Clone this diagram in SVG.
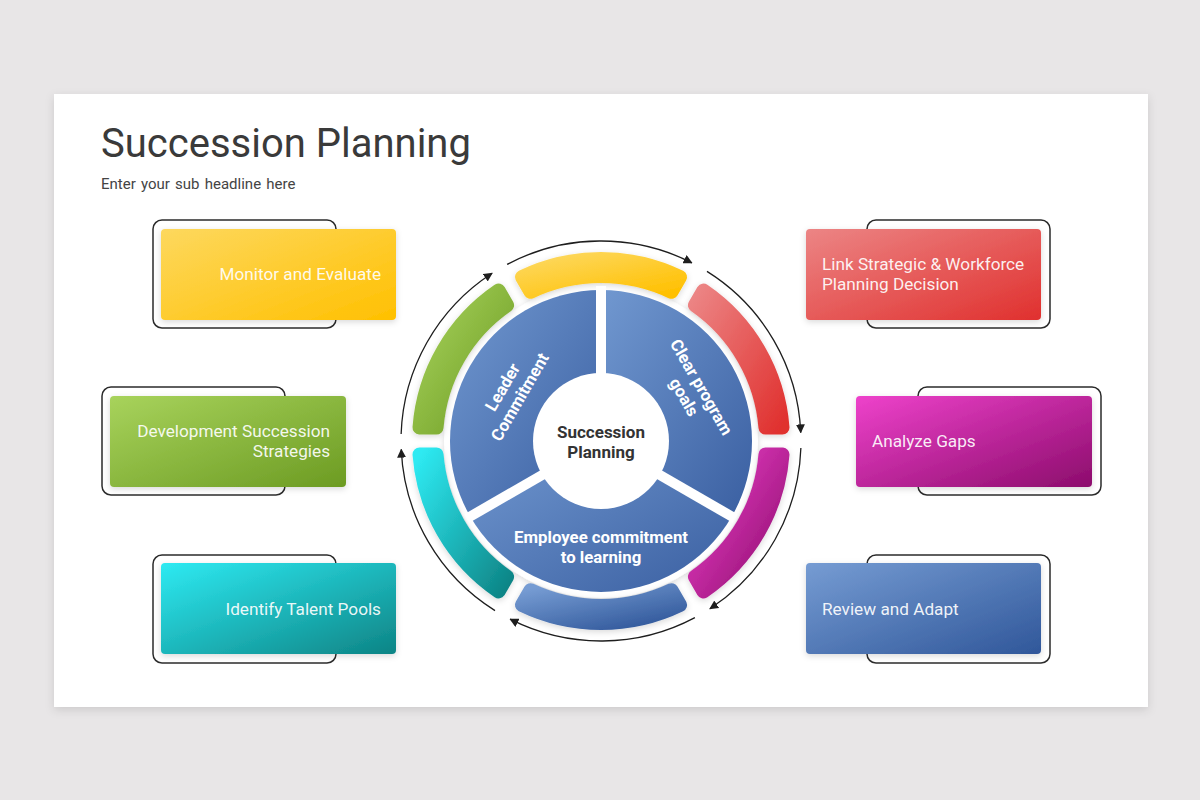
<svg xmlns="http://www.w3.org/2000/svg" width="1200" height="800" viewBox="0 0 1200 800">
<defs>
<filter id="card" x="-5%" y="-5%" width="110%" height="115%"><feDropShadow dx="0" dy="3" stdDeviation="5" flood-color="#000" flood-opacity="0.12"/></filter>
<filter id="sh" x="-10%" y="-10%" width="120%" height="130%"><feDropShadow dx="0" dy="2" stdDeviation="3" flood-color="#000" flood-opacity="0.15"/></filter>
<filter id="shs" filterUnits="userSpaceOnUse" x="380" y="230" width="440" height="420"><feDropShadow dx="0" dy="2" stdDeviation="3" flood-color="#000" flood-opacity="0.15"/></filter>
<linearGradient id="gY" x1="0" y1="0" x2="1" y2="1"><stop offset="0" stop-color="#FDD85E"/><stop offset="1" stop-color="#FFC000"/></linearGradient>
<linearGradient id="gR" x1="0" y1="0" x2="1" y2="1"><stop offset="0" stop-color="#EC8585"/><stop offset="1" stop-color="#E0302E"/></linearGradient>
<linearGradient id="gG" x1="0" y1="0" x2="1" y2="1"><stop offset="0" stop-color="#A8D35C"/><stop offset="1" stop-color="#6C9B22"/></linearGradient>
<linearGradient id="gM" x1="0" y1="0" x2="1" y2="1"><stop offset="0" stop-color="#EE42CB"/><stop offset="1" stop-color="#8C0C6C"/></linearGradient>
<linearGradient id="gT" x1="0" y1="0" x2="1" y2="1"><stop offset="0" stop-color="#2EEAF2"/><stop offset="1" stop-color="#0D8485"/></linearGradient>
<linearGradient id="gB" x1="0" y1="0" x2="1" y2="1"><stop offset="0" stop-color="#769CD3"/><stop offset="1" stop-color="#30579A"/></linearGradient>
<linearGradient id="gP" x1="0" y1="0" x2="1" y2="1"><stop offset="0" stop-color="#7198D0"/><stop offset="1" stop-color="#3A5FA1"/></linearGradient>
<marker id="ah" viewBox="0 0 10 10" refX="9" refY="5" markerWidth="9" markerHeight="9" markerUnits="userSpaceOnUse" orient="auto"><path d="M0,0 L10,5 L0,10 z" fill="#1e1e1e"/></marker>
</defs>
<style>
.ol{fill:none;stroke:#2b2b2b;stroke-width:1.5}
.bt{font-family:Roboto,"Liberation Sans",sans-serif;font-size:17.2px;fill:#fff;fill-opacity:0.92}
.st{font-family:Roboto,"Liberation Sans",sans-serif;font-size:16.8px;font-weight:bold;fill:#fff;text-anchor:middle}
.arc{fill:none;stroke:#1e1e1e;stroke-width:1.3;marker-end:url(#ah)}
.seg{stroke-width:14;stroke-linejoin:round}
</style>
<rect width="1200" height="800" fill="#E8E6E7"/>
<rect x="54" y="94" width="1094" height="613" fill="#fff" filter="url(#card)"/>
<g id="title">
<text x="101" y="157" font-family="Roboto,'Liberation Sans',sans-serif" font-size="40" fill="#3a3a3a">Succession Planning</text>
<text x="101" y="189" font-family="Roboto,'Liberation Sans',sans-serif" font-size="15" word-spacing="1.5" fill="#444">Enter your sub headline here</text>
</g>

<g id="box-monitor">
<rect class="ol" x="153" y="220" width="183" height="108" rx="9"/>
<rect x="161" y="229" width="235" height="91" rx="4" fill="url(#gY)" filter="url(#sh)"/>
<text class="bt" x="381" y="280" text-anchor="end">Monitor and Evaluate</text>
</g>
<g id="box-development">
<rect class="ol" x="102" y="387" width="183" height="108" rx="9"/>
<rect x="110" y="396" width="236" height="91" rx="4" fill="url(#gG)" filter="url(#sh)"/>
<text class="bt" x="330" y="437" text-anchor="end">Development Succession</text>
<text class="bt" x="330" y="457" text-anchor="end">Strategies</text>
</g>
<g id="box-identify">
<rect class="ol" x="153" y="555" width="183" height="108" rx="9"/>
<rect x="161" y="563" width="235" height="91" rx="4" fill="url(#gT)" filter="url(#sh)"/>
<text class="bt" x="381" y="615" text-anchor="end">Identify Talent Pools</text>
</g>
<g id="box-link">
<rect class="ol" x="867" y="220" width="183" height="108" rx="9"/>
<rect x="806" y="229" width="235" height="91" rx="4" fill="url(#gR)" filter="url(#sh)"/>
<text class="bt" x="822" y="270">Link Strategic &amp; Workforce</text>
<text class="bt" x="822" y="290">Planning Decision</text>
</g>
<g id="box-analyze">
<rect class="ol" x="918" y="387" width="183" height="108" rx="9"/>
<rect x="856" y="396" width="236" height="91" rx="4" fill="url(#gM)" filter="url(#sh)"/>
<text class="bt" x="872" y="447">Analyze Gaps</text>
</g>
<g id="box-review">
<rect class="ol" x="867" y="555" width="183" height="108" rx="9"/>
<rect x="806" y="563" width="235" height="91" rx="4" fill="url(#gB)" filter="url(#sh)"/>
<text class="bt" x="822" y="615">Review and Adapt</text>
</g>

<g id="ring">
<circle cx="601" cy="441" r="157" fill="#fff" filter="url(#shs)"/>
<path class="seg" fill="url(#gR)" stroke="url(#gR)" d="M782.50,427.50 A182,182 0 0 0 703.44,290.57 L694.91,305.33 A165,165 0 0 1 765.45,427.50 Z" filter="url(#shs)"/>
<path class="seg" fill="url(#gY)" stroke="url(#gY)" d="M680.06,277.07 A182,182 0 0 0 521.94,277.06 L530.46,291.84 A165,165 0 0 1 671.54,291.83 Z" filter="url(#shs)"/>
<path class="seg" fill="url(#gG)" stroke="url(#gG)" d="M498.56,290.56 A182,182 0 0 0 419.50,427.50 L436.55,427.51 A165,165 0 0 1 507.09,305.33 Z" filter="url(#shs)"/>
<path class="seg" fill="url(#gT)" stroke="url(#gT)" d="M419.50,454.50 A182,182 0 0 0 498.56,591.43 L507.09,576.67 A165,165 0 0 1 436.55,454.50 Z" filter="url(#shs)"/>
<path class="seg" fill="url(#gB)" stroke="url(#gB)" d="M521.94,604.93 A182,182 0 0 0 680.06,604.94 L671.54,590.16 A165,165 0 0 1 530.46,590.17 Z" filter="url(#shs)"/>
<path class="seg" fill="url(#gM)" stroke="url(#gM)" d="M703.44,591.44 A182,182 0 0 0 782.50,454.50 L765.45,454.49 A165,165 0 0 1 694.91,576.67 Z" filter="url(#shs)"/>
</g>

<g id="connectors">
<path class="arc" d="M706.98,271.39 A200,200 0 0 1 800.73,432.5"/>
<path class="arc" d="M507.11,264.41 A200,200 0 0 1 691.80,262.80"/>
<path class="arc" d="M401.12,434.02 A200,200 0 0 1 492.07,273.27"/>
<path class="arc" d="M495.02,610.61 A200,200 0 0 1 401.27,449.5"/>
<path class="arc" d="M694.89,617.59 A200,200 0 0 1 510.20,619.20"/>
<path class="arc" d="M800.88,447.98 A200,200 0 0 1 709.93,608.73"/>
</g>

<g id="sector-leader">
<path fill="url(#gP)" d="M601,441 L601,290 A151,151 0 0 0 470.23,516.5 Z"/>
<g transform="translate(511,392) rotate(-60)"><text class="st" x="0" y="-4">Leader</text><text class="st" x="0" y="16">Commitment</text></g>
</g>
<g id="sector-clear">
<path fill="url(#gP)" d="M601,441 L731.77,516.5 A151,151 0 0 0 601,290 Z"/>
<g transform="translate(693,392) rotate(60)"><text class="st" x="0" y="-4">Clear program</text><text class="st" x="0" y="16">goals</text></g>
</g>
<g id="sector-employee">
<path fill="url(#gP)" d="M601,441 L470.23,516.5 A151,151 0 0 0 731.77,516.5 Z"/>
<text class="st" x="601" y="543">Employee commitment</text>
<text class="st" x="601" y="563">to learning</text>
</g>
<g id="separators" stroke="#fff" stroke-width="10">
<line x1="601" y1="441" x2="601" y2="286"/>
<line x1="601" y1="441" x2="466.8" y2="518.5"/>
<line x1="601" y1="441" x2="735.2" y2="518.5"/>
</g>
<g id="center">
<circle cx="601" cy="441" r="68" fill="#fff"/>
<text x="601" y="438" text-anchor="middle" font-family="Roboto,'Liberation Sans',sans-serif" font-size="17" font-weight="bold" fill="#333">Succession</text>
<text x="601" y="458" text-anchor="middle" font-family="Roboto,'Liberation Sans',sans-serif" font-size="17" font-weight="bold" fill="#333">Planning</text>
</g>
</svg>
